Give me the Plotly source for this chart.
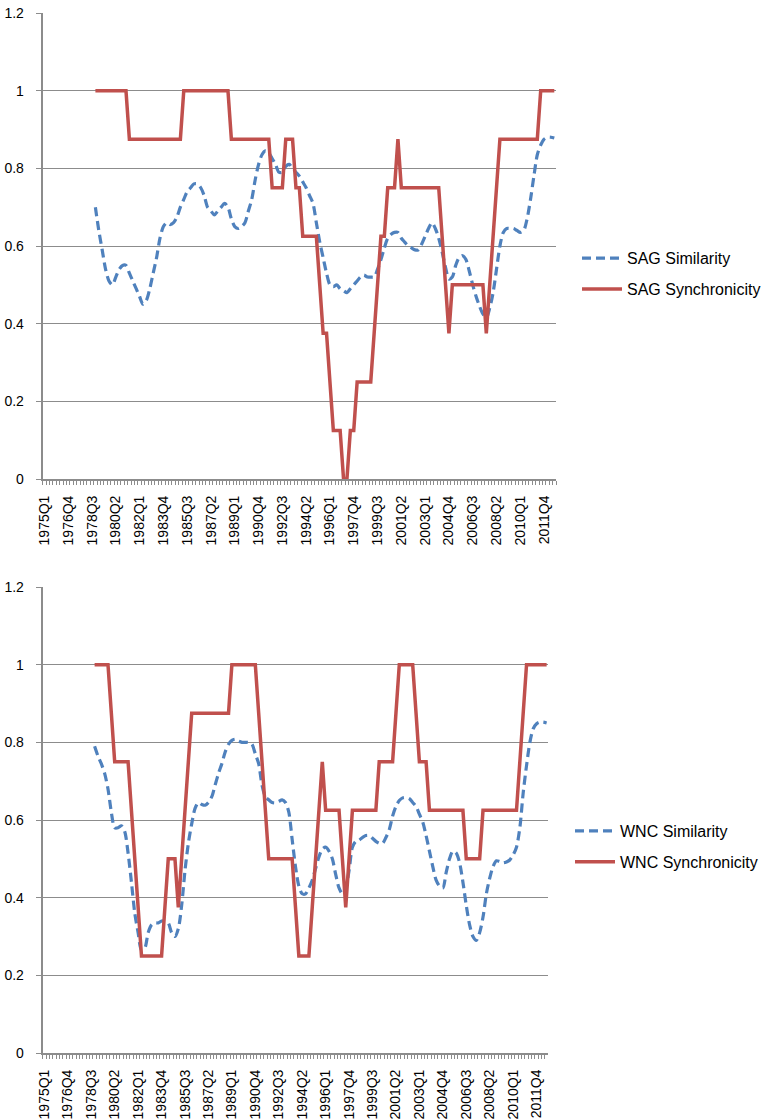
import plotly.graph_objects as go

# ---------------- data ----------------
quarters = [f"{y}Q{q}" for y in range(1975, 2013) for q in range(1, 5)][:151]  # 1975Q1 .. 2012Q3
tick_labels = quarters[::7]
data_quarters = quarters[15:]  # 1978Q4 .. 2012Q3

sag_similarity = [
    0.70, 0.64, 0.59, 0.54, 0.51, 0.50, 0.52, 0.54, 0.55, 0.55,
    0.53, 0.51, 0.49, 0.47, 0.45, 0.46, 0.49, 0.53, 0.57, 0.62,
    0.65, 0.66, 0.655, 0.66, 0.675, 0.70, 0.72, 0.74, 0.75, 0.76,
    0.76, 0.75, 0.73, 0.70, 0.69, 0.68, 0.69, 0.70, 0.71, 0.70,
    0.67, 0.65, 0.645, 0.65, 0.66, 0.69, 0.72, 0.77, 0.81, 0.835,
    0.845, 0.84, 0.825, 0.81, 0.79, 0.79, 0.805, 0.81, 0.80, 0.79,
    0.78, 0.765, 0.75, 0.73, 0.71, 0.66, 0.61, 0.57, 0.53, 0.50,
    0.495, 0.50, 0.49, 0.485, 0.48, 0.49, 0.50, 0.51, 0.52, 0.525,
    0.52, 0.52, 0.52, 0.54, 0.565, 0.595, 0.62, 0.63, 0.635, 0.635,
    0.62, 0.61, 0.60, 0.595, 0.59, 0.59, 0.605, 0.625, 0.645, 0.66,
    0.645, 0.62, 0.585, 0.545, 0.515, 0.52, 0.55, 0.57, 0.575, 0.565,
    0.535, 0.50, 0.47, 0.445, 0.425, 0.415, 0.44, 0.48, 0.54, 0.60,
    0.635, 0.645, 0.645, 0.645, 0.64, 0.635, 0.64, 0.67, 0.72, 0.78,
    0.835, 0.86, 0.875, 0.88, 0.88, 0.878,
]

sag_synchronicity = (
    [1.0] * 10 + [0.875] * 16 + [1.0] * 14 + [0.875] * 12 + [0.75] * 4
    + [0.875] * 3 + [0.75] * 2 + [0.625] * 5 + [0.5] + [0.375] * 2 + [0.25]
    + [0.125] * 3 + [0.0] * 2 + [0.125] * 2 + [0.25] * 5 + [0.375] + [0.5]
    + [0.625] * 2 + [0.75] * 3 + [0.875] + [0.75] * 12 + [0.625] + [0.5]
    + [0.375] + [0.5] * 10 + [0.375] + [0.5] + [0.625] + [0.75]
    + [0.875] * 12 + [1.0] * 5
)

wnc_similarity = [
    0.79, 0.765, 0.745, 0.72, 0.68, 0.62, 0.58, 0.58, 0.585, 0.57,
    0.515, 0.44, 0.36, 0.31, 0.265, 0.27, 0.31, 0.33, 0.335, 0.335,
    0.34, 0.34, 0.335, 0.31, 0.30, 0.32, 0.38, 0.47, 0.54, 0.59,
    0.63, 0.645, 0.64, 0.638, 0.645, 0.66, 0.69, 0.72, 0.745, 0.775,
    0.795, 0.805, 0.808, 0.803, 0.80, 0.80, 0.80, 0.795, 0.77, 0.745,
    0.69, 0.66, 0.652, 0.645, 0.644, 0.648, 0.652, 0.645, 0.62, 0.55,
    0.48, 0.43, 0.41, 0.41, 0.425, 0.445, 0.475, 0.505, 0.525, 0.53,
    0.52, 0.50, 0.46, 0.425, 0.41, 0.425, 0.47, 0.53, 0.545, 0.548,
    0.555, 0.56, 0.56, 0.553, 0.545, 0.54, 0.54, 0.555, 0.575, 0.61,
    0.635, 0.65, 0.657, 0.658, 0.655, 0.645, 0.635, 0.615, 0.595, 0.56,
    0.52, 0.48, 0.445, 0.43, 0.425, 0.465, 0.50, 0.52, 0.515, 0.49,
    0.44, 0.38, 0.33, 0.30, 0.29, 0.31, 0.35, 0.41, 0.45, 0.48,
    0.495, 0.493, 0.49, 0.492, 0.497, 0.51, 0.53, 0.58, 0.67, 0.74,
    0.80, 0.835, 0.848, 0.852, 0.852, 0.85,
]

wnc_synchronicity = (
    [1.0] * 5 + [0.875] + [0.75] * 5 + [0.625] + [0.5] + [0.375]
    + [0.25] * 7 + [0.375] + [0.5] * 3 + [0.375] + [0.5] + [0.625] + [0.75]
    + [0.875] * 12 + [1.0] * 8 + [0.875] + [0.75] + [0.625] + [0.5] * 8
    + [0.375] + [0.25] * 4 + [0.375] + [0.5] + [0.625] + [0.75]
    + [0.625] * 5 + [0.5] + [0.375] + [0.5] + [0.625] * 8 + [0.75] * 5
    + [0.875] + [1.0] * 5 + [0.875] + [0.75] * 3 + [0.625] * 11 + [0.5] * 5
    + [0.625] * 11 + [0.75] + [0.875] + [1.0] * 7
)

# ---------------- styling ----------------
W, H = 764, 1120
BLUE = "#4F81BD"
RED = "#C0504D"
GRID = "#8C8C8C"
FONT = "Liberation Sans, Arial, Helvetica, sans-serif"

def px_x(a, b):
    return [a / W, b / W]

def px_y(top, bottom):
    return [1 - bottom / H, 1 - top / H]

fig = go.Figure()

panels = [
    ("SAG", sag_similarity, sag_synchronicity, "x", "y", "legend"),
    ("WNC", wnc_similarity, wnc_synchronicity, "x2", "y2", "legend2"),
]
for name, sim, syn, xa, ya, lg in panels:
    fig.add_trace(go.Scatter(
        x=data_quarters, y=sim, mode="lines", name=f"{name} Similarity",
        line=dict(color=BLUE, width=3.2, dash="9px,5px", shape="spline", smoothing=0.8),
        xaxis=xa, yaxis=ya, legend=lg, legendgroup=f"{name}a",
    ))
    fig.add_trace(go.Scatter(
        x=data_quarters, y=syn, mode="lines", name=f"{name} Synchronicity",
        line=dict(color=RED, width=3.5),
        xaxis=xa, yaxis=ya, legend=lg, legendgroup=f"{name}b",
    ))

xcommon = dict(
    type="category", categoryorder="array", categoryarray=quarters,
    range=[-0.5, len(quarters) - 0.5],
    tickmode="array", tickvals=quarters,
    ticktext=[q if i % 7 == 0 else "" for i, q in enumerate(quarters)],
    tickangle=-90, ticks="outside", tickson="boundaries", ticklen=4,
    tickcolor=GRID, tickwidth=1, showline=True, linecolor=GRID, linewidth=2,
    showgrid=False, zeroline=False, automargin=False,
    tickfont=dict(family=FONT, size=14, color="#000"),
    ticklabelstandoff=9,
)
ycommon = dict(
    range=[0, 1.2], tick0=0, dtick=0.2, showgrid=True, gridcolor=GRID, gridwidth=1,
    showline=True, linecolor=GRID, linewidth=2, ticks="outside", ticklen=5,
    tickcolor=GRID, tickwidth=1, zeroline=False, automargin=False,
    tickfont=dict(family=FONT, size=14, color="#000"),
    ticklabelstandoff=9,
)

legcommon = dict(
    font=dict(family=FONT, size=16, color="#000"), bgcolor="rgba(0,0,0,0)",
    borderwidth=0, xanchor="left", yanchor="middle", tracegroupgap=7,
    itemwidth=40,
)

fig.update_layout(
    width=W, height=H, margin=dict(l=0, r=0, t=0, b=0, autoexpand=False),
    paper_bgcolor="white", plot_bgcolor="white",
    xaxis=dict(domain=px_x(42.7, 556), anchor="y", **xcommon),
    yaxis=dict(domain=px_y(13, 479), anchor="x", **ycommon),
    xaxis2=dict(domain=px_x(42.7, 548.3), anchor="y2", **xcommon),
    yaxis2=dict(domain=px_y(587, 1053), anchor="x2", **ycommon),
    legend=dict(x=577 / W, y=1 - 273.8 / H, **legcommon),
    legend2=dict(x=570 / W, y=1 - 846.5 / H, **legcommon),
    showlegend=True,
)

fig.write_html(
    "out.html",
    config={"displayModeBar": False},
    post_script="document.body.style.margin='0';",
)
